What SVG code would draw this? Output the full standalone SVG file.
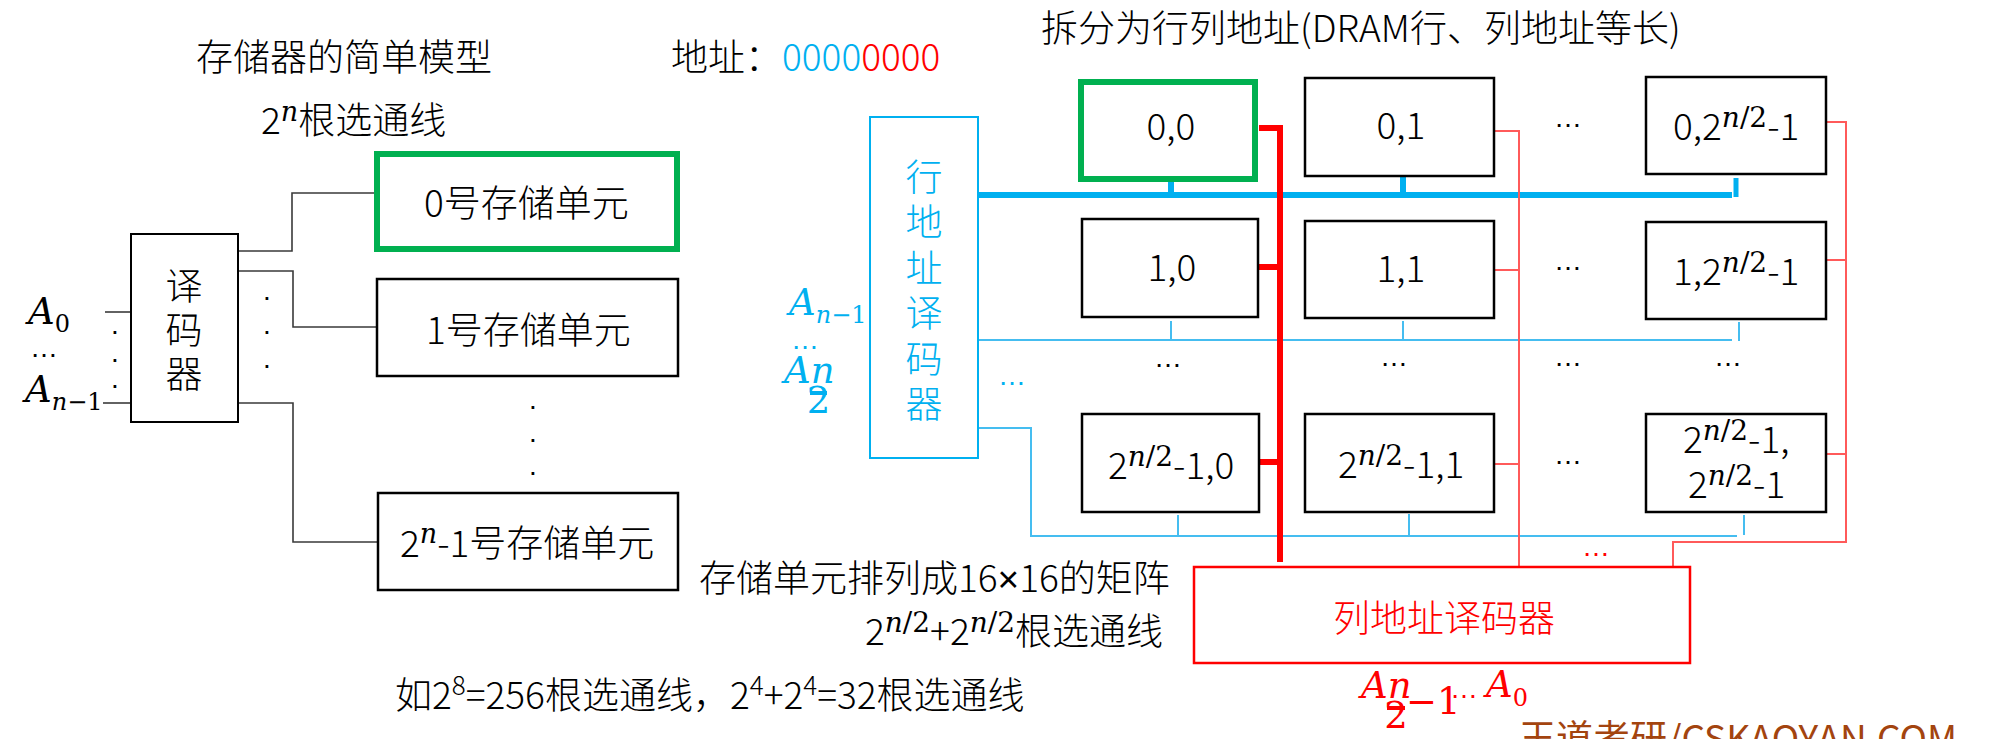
<svg xmlns="http://www.w3.org/2000/svg" width="1997" height="739" viewBox="0 0 1997 739">
<style>
.t{font-family:"Noto Sans CJK SC","Liberation Sans",sans-serif;font-size:37px;font-weight:300;fill:#000}
.mi{font-family:"DejaVu Serif","Liberation Serif",serif;font-style:italic;font-weight:normal}
.mr{font-family:"DejaVu Serif","Liberation Serif",serif;font-style:normal;font-weight:normal}
.el{font-family:"Liberation Sans",sans-serif;font-size:28px}
.box{fill:#fff;stroke:#000;stroke-width:2.5}
.gbox{fill:#fff;stroke:#00B050;stroke-width:6}
.wire{fill:none;stroke:#3a3a3a;stroke-width:1.6}
.bthick{fill:none;stroke:#00B0F0;stroke-width:6}
.bthin{fill:none;stroke:#45BDF0;stroke-width:2}
.rthick{fill:none;stroke:#FF0000;stroke-width:6}
.rthin{fill:none;stroke:#FF5A5A;stroke-width:2}
.blue{fill:#00B0F0}
.red{fill:#FF0000}
</style>
<rect width="1997" height="739" fill="#fff"/>

<!-- titles and notes -->
<text class="t" x="196" y="71">存储器的简单模型</text>
<text class="t" x="261" y="134">2<tspan class="mi" font-size="27" dy="-13">n</tspan><tspan dy="13">根选通线</tspan></text>
<text class="t" x="671" y="71">地址：<tspan class="blue">0000</tspan><tspan class="red">0000</tspan></text>
<text class="t" x="1041" y="42">拆分为行列地址(DRAM行、列地址等长)</text>
<text class="t" x="699" y="592">存储单元排列成16<tspan font-family="Liberation Sans">×</tspan>16的矩阵</text>
<text class="t" x="865" y="645">2<tspan class="mi" font-size="28" dy="-13">n</tspan><tspan class="mr" font-size="28">/2</tspan><tspan dy="13">+2</tspan><tspan class="mi" font-size="28" dy="-13">n</tspan><tspan class="mr" font-size="28">/2</tspan><tspan dy="13">根选通线</tspan></text>
<text class="t" x="395" y="709">如2<tspan font-size="26" dy="-14">8</tspan><tspan dy="14">=256根选通线，2</tspan><tspan font-size="26" dy="-14">4</tspan><tspan dy="14">+2</tspan><tspan font-size="26" dy="-14">4</tspan><tspan dy="14">=32根选通线</tspan></text>
<text class="t" x="1519" y="752" style="fill:#A3440F;font-weight:normal">王道考研/CSKAOYAN.COM</text>

<!-- left model connectors -->
<g id="connectors-left">
<path class="wire" d="M105,312 H130"/>
<path class="wire" d="M103,403 H130"/>
<path class="wire" d="M238,251 H292 V193 H377"/>
<path class="wire" d="M238,271 H293 V327 H376"/>
<path class="wire" d="M238,403 H293 V542 H377"/>
</g>

<g id="inputs-left">
<text class="t mi" x="28" y="324" font-size="34">A<tspan class="mr" font-size="24" dy="8">0</tspan></text>
<text class="el" x="30" y="357">…</text>
<text class="t mi" x="25" y="402" font-size="34">A<tspan font-size="24" dy="8">n</tspan><tspan class="mr" font-size="24">−1</tspan></text>
<text class="el" x="115" y="334" text-anchor="middle">.</text>
<text class="el" x="115" y="362" text-anchor="middle">.</text>
<text class="el" x="115" y="388" text-anchor="middle">.</text>
<text class="el" x="267" y="300" text-anchor="middle">.</text>
<text class="el" x="267" y="334" text-anchor="middle">.</text>
<text class="el" x="267" y="368" text-anchor="middle">.</text>
<text class="el" x="533" y="409" text-anchor="middle">.</text>
<text class="el" x="533" y="442" text-anchor="middle">.</text>
<text class="el" x="533" y="475" text-anchor="middle">.</text>
</g>

<g id="decoder">
<rect class="box" x="131" y="234" width="107" height="188" style="stroke-width:2"/>
<text class="t" x="184" y="300" text-anchor="middle">译</text>
<text class="t" x="184" y="344" text-anchor="middle">码</text>
<text class="t" x="184" y="388" text-anchor="middle">器</text>
</g>

<g id="cell0">
<rect class="gbox" x="377" y="154" width="300" height="95"/>
<text class="t" x="424" y="217">0号存储单元</text>
</g>
<g id="cell1">
<rect class="box" x="377" y="279" width="301" height="97"/>
<text class="t" x="426" y="344">1号存储单元</text>
</g>
<g id="celln">
<rect class="box" x="378" y="493" width="300" height="97"/>
<text class="t" x="400" y="557">2<tspan class="mi" font-size="27" dy="-14">n</tspan><tspan dy="14">-1号存储单元</tspan></text>
</g>

<!-- matrix connectors -->
<g id="connectors-matrix">
<path class="bthick" d="M978,195 H1732"/>
<path class="bthick" d="M1171,181 V195"/>
<path class="bthick" d="M1403,176 V195"/>
<path class="bthick" d="M1736,178 V197" style="stroke-width:5"/>
<path class="bthin" d="M978,340 H1732"/>
<path class="bthin" d="M1171,321 V340"/>
<path class="bthin" d="M1403,321 V340"/>
<path class="bthin" d="M1739,322 V341"/>
<path class="bthin" d="M978,428 H1031 V536 H1737"/>
<path class="bthin" d="M1178,515 V536"/>
<path class="bthin" d="M1409,514 V536"/>
<path class="bthin" d="M1744,515 V535"/>
<path class="rthick" d="M1259,128 H1280 M1280,125 V562 M1259,267 H1280 M1259,462 H1280"/>
<path class="rthin" d="M1495,131 H1519 V566 M1495,270 H1519 M1495,464 H1519"/>
<path class="rthin" d="M1826,122 H1846 V542 H1673 V567 M1826,260 H1846 M1826,454 H1846"/>
</g>

<g id="row-decoder">
<rect x="870" y="117" width="108" height="341" fill="#fff" stroke="#00B0F0" stroke-width="2"/>
<text class="t blue" x="924" y="191" text-anchor="middle">行</text>
<text class="t blue" x="924" y="236" text-anchor="middle">地</text>
<text class="t blue" x="924" y="282" text-anchor="middle">址</text>
<text class="t blue" x="924" y="327" text-anchor="middle">译</text>
<text class="t blue" x="924" y="373" text-anchor="middle">码</text>
<text class="t blue" x="924" y="418" text-anchor="middle">器</text>
</g>
<g id="row-inputs">
<text class="t mi blue" x="789" y="315" font-size="34">A<tspan font-size="24" dy="8">n</tspan><tspan class="mr" font-size="24">−1</tspan></text>
<text class="el blue" x="791" y="349" font-size="26">…</text>
<text class="t mi blue" x="784" y="383" font-size="34">An</text>
<rect class="blue" x="810" y="391" width="17" height="4"/>
<text class="t mr blue" x="818.5" y="413" font-size="24" text-anchor="middle">2</text>
<text class="el blue" x="998" y="385" font-size="26">…</text>
</g>

<g id="col-decoder">
<rect x="1194" y="567" width="496" height="96" fill="#fff" stroke="#FF0000" stroke-width="2.5"/>
<text class="t red" x="1333" y="632">列地址译码器</text>
</g>
<g id="col-inputs">
<text class="t mi red" x="1361" y="698" font-size="34">An</text>
<rect class="red" x="1387" y="706" width="18" height="4"/>
<text class="t mr red" x="1396" y="728" font-size="24" text-anchor="middle">2</text>
<text class="t mr red" x="1406" y="714" font-size="22">−1</text>
<text class="el red" x="1450" y="698" font-size="32">…</text>
<text class="t mi red" x="1486" y="697" font-size="34">A<tspan class="mr" font-size="24" dy="9">0</tspan></text>
<text class="el red" x="1582" y="556">…</text>
</g>

<!-- matrix cells -->
<g id="c00">
<rect class="gbox" x="1081" y="82" width="174" height="97"/>
<text class="t" x="1171" y="140" text-anchor="middle">0,0</text>
</g>
<g id="c01">
<rect class="box" x="1305" y="78" width="189" height="98"/>
<text class="t" x="1401" y="139" text-anchor="middle">0,1</text>
</g>
<g id="c0n">
<rect class="box" x="1646" y="77" width="180" height="97"/>
<text class="t" x="1673" y="140">0,2<tspan class="mi" font-size="28" dy="-13">n</tspan><tspan class="mr" font-size="28">/2</tspan><tspan dy="13">-1</tspan></text>
</g>
<g id="c10">
<rect class="box" x="1082" y="219" width="176" height="98"/>
<text class="t" x="1172" y="281" text-anchor="middle">1,0</text>
</g>
<g id="c11">
<rect class="box" x="1305" y="221" width="189" height="97"/>
<text class="t" x="1401" y="282" text-anchor="middle">1,1</text>
</g>
<g id="c1n">
<rect class="box" x="1646" y="222" width="180" height="97"/>
<text class="t" x="1673" y="285">1,2<tspan class="mi" font-size="28" dy="-13">n</tspan><tspan class="mr" font-size="28">/2</tspan><tspan dy="13">-1</tspan></text>
</g>
<g id="cn0">
<rect class="box" x="1082" y="414" width="177" height="98"/>
<text class="t" x="1108" y="479">2<tspan class="mi" font-size="28" dy="-13">n</tspan><tspan class="mr" font-size="28">/2</tspan><tspan dy="13">-1,0</tspan></text>
</g>
<g id="cn1">
<rect class="box" x="1305" y="414" width="189" height="98"/>
<text class="t" x="1338" y="478">2<tspan class="mi" font-size="28" dy="-13">n</tspan><tspan class="mr" font-size="28">/2</tspan><tspan dy="13">-1,1</tspan></text>
</g>
<g id="cnn">
<rect class="box" x="1646" y="414" width="180" height="98"/>
<text class="t" x="1683" y="453">2<tspan class="mi" font-size="28" dy="-13">n</tspan><tspan class="mr" font-size="28">/2</tspan><tspan dy="13">-1,</tspan></text>
<text class="t" x="1688" y="498">2<tspan class="mi" font-size="28" dy="-13">n</tspan><tspan class="mr" font-size="28">/2</tspan><tspan dy="13">-1</tspan></text>
</g>

<g id="ellipses">
<text class="el" x="1554" y="127">…</text>
<text class="el" x="1554" y="270">…</text>
<text class="el" x="1554" y="464">…</text>
<text class="el" x="1154" y="367">…</text>
<text class="el" x="1380" y="366">…</text>
<text class="el" x="1554" y="366">…</text>
<text class="el" x="1714" y="366">…</text>
</g>
</svg>
